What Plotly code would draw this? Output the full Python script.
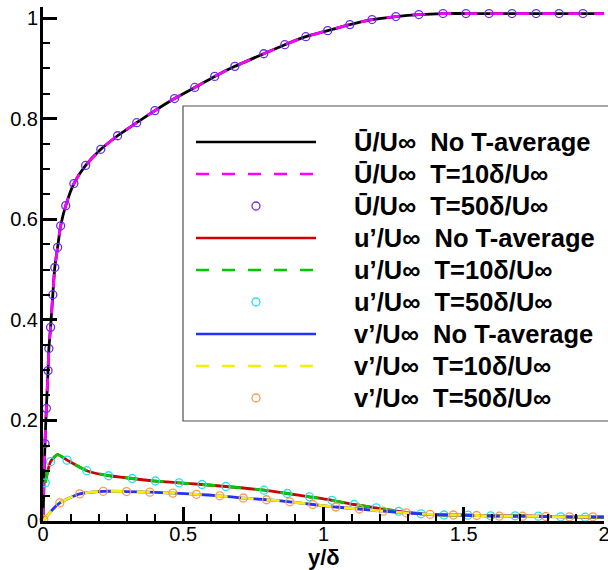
import plotly.graph_objects as go

# ---------------- data ----------------
# Mean velocity U/U_inf (T=50 circles)
y_U = [0.007, 0.012, 0.018, 0.021, 0.027, 0.035, 0.042, 0.052, 0.063, 0.081,
       0.110, 0.152, 0.206, 0.266, 0.334, 0.399, 0.469, 0.541, 0.612, 0.684,
       0.787, 0.862, 0.937, 1.015, 1.094, 1.173, 1.258, 1.340, 1.426, 1.508,
       1.590, 1.672, 1.758, 1.840, 1.925]
U_mean = [0.154, 0.224, 0.299, 0.343, 0.385, 0.450, 0.504, 0.544, 0.587, 0.627,
          0.671, 0.707, 0.739, 0.766, 0.792, 0.816, 0.840, 0.862, 0.884, 0.904,
          0.929, 0.947, 0.963, 0.975, 0.987, 0.997, 1.003, 1.007, 1.009, 1.009,
          1.009, 1.009, 1.009, 1.009, 1.009]
# Mean velocity line profile (No T-average / T=10)
y_U_line = [0.0] + y_U + [2.0]
U_line = [0.0] + U_mean + [1.009]

# u'/U_inf (T=50 circles)
y_u = [0.008, 0.027, 0.086, 0.156, 0.234, 0.318, 0.401, 0.485, 0.567, 0.652,
       0.788, 0.871, 0.950, 1.030, 1.109, 1.188, 1.268, 1.348, 1.430, 1.515,
       1.596, 1.683, 1.766, 1.846, 1.933]
u_rms = [0.076, 0.118, 0.121, 0.100, 0.090, 0.0845, 0.0795, 0.076, 0.0726, 0.0686,
         0.0612, 0.0547, 0.0481, 0.0412, 0.0328, 0.0262, 0.0193, 0.0143, 0.0119, 0.0115,
         0.0103, 0.0103, 0.0095, 0.0083, 0.0076]
y_u_line = [0.008, 0.027, 0.052, 0.086, 0.156, 0.234, 0.318, 0.401, 0.485, 0.567,
            0.652, 0.788, 0.871, 0.950, 1.030, 1.109, 1.188, 1.268, 1.348, 1.430,
            1.515, 1.596, 1.683, 1.766, 1.846, 1.933, 2.0]
u_line = [0.076, 0.118, 0.132, 0.121, 0.100, 0.090, 0.0845, 0.0795, 0.076, 0.0726,
          0.0686, 0.0612, 0.0547, 0.0481, 0.0412, 0.0328, 0.0262, 0.0193, 0.0143, 0.0119,
          0.0115, 0.0103, 0.0103, 0.0095, 0.0083, 0.0076, 0.0075]

# v'/U_inf (T=50 circles)
y_v = [0.003, 0.060, 0.131, 0.215, 0.298, 0.381, 0.463, 0.547, 0.630, 0.714,
       0.797, 0.880, 0.962, 1.044, 1.128, 1.213, 1.295, 1.380, 1.463, 1.546,
       1.627, 1.710, 1.793, 1.877, 1.960]
v_rms = [0.003, 0.036, 0.054, 0.059, 0.0586, 0.0573, 0.0555, 0.0531, 0.0501, 0.0457,
         0.0423, 0.0382, 0.0328, 0.0278, 0.0239, 0.0195, 0.0163, 0.0133, 0.0119, 0.0109,
         0.0095, 0.0095, 0.0089, 0.0083, 0.0083]
y_v_line = [0.0, 0.0285] + y_v[1:] + [2.0]
v_line = [0.0, 0.0195] + v_rms[1:] + [0.0082]

legend_labels = [
    ("Ū/U∞", "No T-average"),
    ("Ū/U∞", "T=10δ/U∞"),
    ("Ū/U∞", "T=50δ/U∞"),
    ("u’/U∞", "No T-average"),
    ("u’/U∞", "T=10δ/U∞"),
    ("u’/U∞", "T=50δ/U∞"),
    ("v’/U∞", "No T-average"),
    ("v’/U∞", "T=10δ/U∞"),
    ("v’/U∞", "T=50δ/U∞"),
]

x_ticks = [0, 0.5, 1, 1.5, 2]
x_ticklabels = ["0", "0.5", "1", "1.5", "2"]
y_ticks = [0, 0.2, 0.4, 0.6, 0.8, 1]
y_ticklabels = ["0", "0.2", "0.4", "0.6", "0.8", "1"]
x_title = "y/δ"

# ---------------- styles ----------------
BLACK = "#000000"
MAGENTA = "#ff00ff"
VIOLET = "#6a2cf0"
RED = "#d00000"
GREEN = "#00c800"
CYAN = "#22e0ee"
BLUE = "#2233ff"
YELLOW = "#f4f000"
ORANGE = "#ff9a4a"
DASH = "13px,13px"
LW = 2.8

series = [
    # (x, y, kind, color)
    (y_U_line, U_line, "solid", BLACK),
    (y_U_line, U_line, "dash", MAGENTA),
    (y_U, U_mean, "circle", VIOLET),
    (y_u_line, u_line, "solid", RED),
    (y_u_line, u_line, "dash", GREEN),
    (y_u, u_rms, "circle", CYAN),
    (y_v_line, v_line, "solid", BLUE),
    (y_v_line, v_line, "dash", YELLOW),
    (y_v, v_rms, "circle", ORANGE),
]

fig = go.Figure()
for xs, ys, kind, col in series:
    if kind == "circle":
        fig.add_trace(go.Scatter(
            x=xs, y=ys, mode="markers", cliponaxis=False, showlegend=False,
            marker=dict(symbol="circle-open", size=8, color=col,
                        line=dict(color=col, width=1.3))))
    else:
        fig.add_trace(go.Scatter(
            x=xs, y=ys, mode="lines", showlegend=False,
            line=dict(color=col, width=LW, shape="spline", smoothing=0.6,
                      dash=("solid" if kind == "solid" else DASH))))

# ---------------- layout ----------------
W, H = 608, 570
ML, MR, MT, MB = 43, 4, 7, 49
PW, PH = W - ML - MR, H - MT - MB


def px(xp):
    return (xp - ML) / PW


def py(yp):
    return (H - MB - yp) / PH


shapes = []
annotations = []
# legend box
shapes.append(dict(type="rect", xref="paper", yref="paper",
                   x0=px(183), x1=px(640), y0=py(421), y1=py(106),
                   line=dict(color="#505050", width=1.2), fillcolor="white",
                   layer="above"))
row_y = [142 + 32 * i for i in range(9)]
FONT = "Liberation Sans, Arial, Helvetica, sans-serif"
for (xs, ys, kind, col), (lab1, lab2), ry in zip(series, legend_labels, row_y):
    if kind == "circle":
        r = 4
        shapes.append(dict(type="circle", xref="paper", yref="paper",
                           x0=px(256 - r), x1=px(256 + r), y0=py(ry + r), y1=py(ry - r),
                           line=dict(color=col, width=1.3), layer="above"))
    else:
        shapes.append(dict(type="line", xref="paper", yref="paper",
                           x0=px(196), x1=px(316), y0=py(ry), y1=py(ry),
                           line=dict(color=col, width=2.6,
                                     dash=("solid" if kind == "solid" else DASH)),
                           layer="above"))
    annotations.append(dict(
        xref="paper", yref="paper", x=px(352), y=py(ry),
        xanchor="left", yanchor="middle", showarrow=False,
        text="<b>" + lab1 + "\u00a0\u00a0" + lab2 + "</b>",
        font=dict(family=FONT, size=25.5, color="black")))

# x-axis title
annotations.append(dict(
    xref="paper", yref="paper", x=px(324), y=py(557),
    xanchor="center", yanchor="middle", showarrow=False,
    text="<b>" + x_title + "</b>",
    font=dict(family=FONT, size=22, color="black")))

axis_common = dict(
    showline=True, linecolor="black", linewidth=3, mirror=False,
    showgrid=False, zeroline=False, automargin=False,
    ticks="inside", ticklen=14, tickwidth=2.5, tickcolor="black",
    ticklabeloverflow="allow",
    tickfont=dict(family=FONT, size=20, color="black"),
)

fig.update_layout(
    width=W, height=H,
    margin=dict(l=ML, r=MR, t=MT, b=MB, pad=0, autoexpand=False),
    paper_bgcolor="white", plot_bgcolor="white",
    showlegend=False,
    shapes=shapes, annotations=annotations,
    xaxis=dict(range=[0, 2], tickvals=x_ticks, ticktext=x_ticklabels,
               minor=dict(ticks="inside", dtick=0.1, ticklen=7, tickwidth=1.5,
                          tickcolor="black", showgrid=False),
               ticklabelstandoff=-7,
               **axis_common),
    yaxis=dict(range=[0, 1.022], tickvals=y_ticks, ticktext=y_ticklabels,
               minor=dict(ticks="inside", dtick=0.05, ticklen=7, tickwidth=1.5,
                          tickcolor="black", showgrid=False),
               ticklabelstandoff=-2,
               **axis_common),
)

fig.write_html(
    "out.html",
    config={"displayModeBar": False},
    post_script="document.body.style.margin='0';document.body.style.padding='0';",
)
